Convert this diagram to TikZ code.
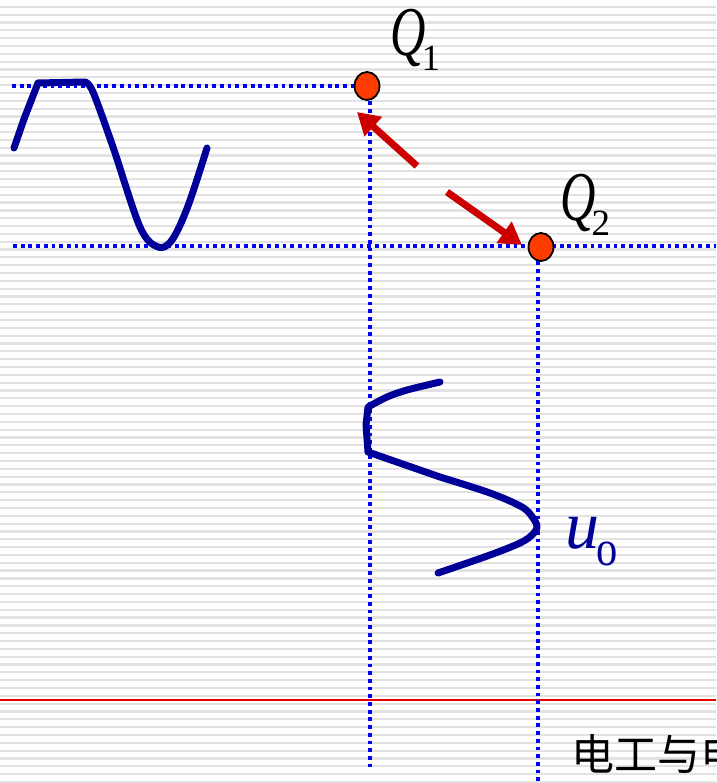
\documentclass[tikz,border=0pt]{standalone}
\usepackage{fontspec}
\setmainfont{Liberation Serif}
\newfontfamily\cjk{Noto Sans CJK SC}
\usetikzlibrary{arrows.meta,shapes.geometric}
\definecolor{navyw}{RGB}{0,0,153}
\definecolor{dotblue}{RGB}{0,0,255}
\definecolor{qfill}{RGB}{255,60,0}
\definecolor{arrred}{RGB}{204,0,0}
\definecolor{ruleg}{RGB}{226,226,226}
\definecolor{marginred}{RGB}{230,0,0}
\begin{document}
\begin{tikzpicture}[x=1pt,y=-1pt,
  bgline/.style={ruleg,line width=2.2pt},
  guide/.style={dotblue,line width=3.3pt,dash pattern=on 3.8pt off 3.9pt},
  wave/.style={navyw,line width=7pt,line cap=round,line join=round},
  qdot/.style={ellipse,draw=black,line width=1.8pt,fill=qfill,minimum width=25pt,minimum height=28pt,inner sep=0pt},
  redarrow/.style={arrred,line width=7pt,-{Triangle[length=22pt,width=25pt]}},
  lbl/.style={inner sep=0pt,anchor=base west}]
\clip (0,0) rectangle (716,783);
\fill[white] (0,0) rectangle (716,783);
\foreach \k in {0,...,100} \draw[bgline] (0,{-1+7.83*\k}) -- (716,{-1+7.83*\k});
\draw[marginred,line width=1.3pt] (0,700) -- (716,700);

% guide lines
\coordinate (h1s) at (12,86);
\coordinate (h2s) at (13,246);
\coordinate (h2e) at (716,246);
\coordinate (v1s) at (370,86);
\coordinate (v1e) at (370,768);
\coordinate (v2s) at (538,246);
\coordinate (v2e) at (538,783);
\draw[guide] (h1s) -- (v1s);
\draw[guide] (v1s) -- (v1e);
\draw[guide] (h2s) -- (h2e);
\draw[guide] (v2s) -- (v2e);

% operating points
\node[qdot] (q1) at (367,86) {};
\node[qdot] (q2) at (541,247) {};

% arrows
\coordinate (a1t) at (417,166);
\coordinate (a1h) at (357,112);
\coordinate (a2t) at (447,192);
\coordinate (a2h) at (522,245);
\draw[redarrow] (a1t) -- (a1h);
\draw[redarrow] (a2t) -- (a2h);

% input wave
\draw[wave] (14,148) -- (24,119) -- (38,83) -- (85,82)
  -- plot[smooth,tension=0.55] coordinates {(85,82) (93,92) (113,147) (140,227) (158,247) (172,240) (188,206) (207,148)};

% output wave
\draw[wave] plot[smooth,tension=0.5] coordinates {(440,382) (407,390) (387,397) (368,407)}
  -- (366,425) -- (368,452) -- (440,477)
  -- plot[smooth,tension=0.55] coordinates {(440,477) (490,493) (522,507) (533,518) (537,527) (532,535) (520,543) (490,555) (438,573)};

% labels
\node[lbl] (lq1) at (390,56) {\scalebox{0.7}[1]{\fontsize{70}{70}\selectfont\itshape Q}\kern-4pt\raisebox{-15pt}{\fontsize{37}{37}\selectfont 1}};
\node[lbl] (lq2) at (560,221) {\scalebox{0.7}[1]{\fontsize{70}{70}\selectfont\itshape Q}\kern-4pt\raisebox{-15pt}{\fontsize{37}{37}\selectfont 2}};
\node[lbl,text=navyw] (luo) at (565,548) {{\fontsize{68}{68}\selectfont\itshape u}\kern-3pt\raisebox{-17pt}{\scalebox{0.85}[1]{\fontsize{50}{50}\selectfont o}}};
\node[lbl] (foot) at (571,770) {\cjk\fontsize{43}{43}\selectfont 电工与电};
\end{tikzpicture}
\end{document}
